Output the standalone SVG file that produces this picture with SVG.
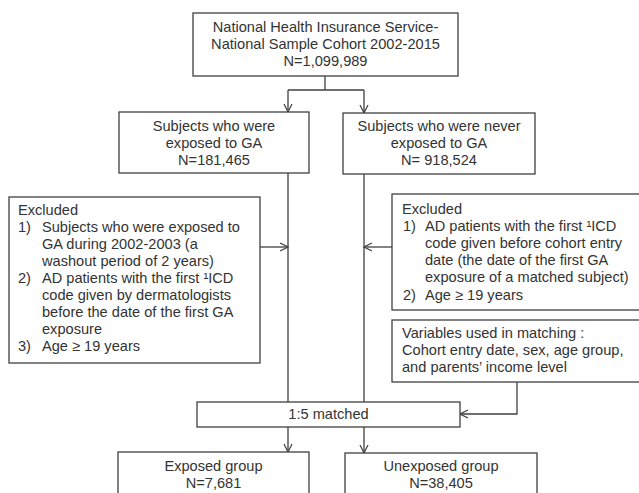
<svg xmlns="http://www.w3.org/2000/svg" width="639" height="493" viewBox="0 0 639 493">
<defs>
<style>
.box{fill:#fff;stroke:#404040;stroke-width:1.3}
.t{font-family:"Liberation Sans",Arial,sans-serif;font-size:14.6px;fill:#333}
.c{text-anchor:middle}
.ln{fill:none;stroke:#404040;stroke-width:1.3}
</style>
<marker id="ah" viewBox="0 0 10 10" refX="9" refY="5" markerWidth="10" markerHeight="10" markerUnits="userSpaceOnUse" orient="auto">
<path d="M1,1 L9,5 L1,9" fill="none" stroke="#404040" stroke-width="1.2"/>
</marker>
</defs>
<rect width="639" height="493" fill="#fff"/>
<g id="connectors">
<path class="ln" d="M325,76 V90"/>
<path class="ln" d="M288,90 H364"/>
<path class="ln" d="M288,90 V112" marker-end="url(#ah)"/>
<path class="ln" d="M364,90 V113" marker-end="url(#ah)"/>
<path class="ln" d="M288,173 V402"/>
<path class="ln" d="M364,174 V402"/>
<path class="ln" d="M260,247 H288" marker-end="url(#ah)"/>
<path class="ln" d="M392,247 H364" marker-end="url(#ah)"/>
<path class="ln" d="M517,382 V414 H460" marker-end="url(#ah)"/>
<path class="ln" d="M288,427 V452" marker-end="url(#ah)"/>
<path class="ln" d="M364,427 V453" marker-end="url(#ah)"/>
</g>
<g id="cohort">
<rect class="box" x="193" y="13" width="265" height="63"/>
<text class="t c" x="325.5" y="32">National Health Insurance Service-</text>
<text class="t c" x="325.5" y="49">National Sample Cohort 2002-2015</text>
<text class="t c" x="325.5" y="66">N=1,099,989</text>
</g>
<g id="exposed">
<rect class="box" x="119" y="112" width="190" height="61"/>
<text class="t c" x="214" y="131">Subjects who were</text>
<text class="t c" x="214" y="148">exposed to GA</text>
<text class="t c" x="214" y="165">N=181,465</text>
</g>
<g id="never">
<rect class="box" x="343" y="113" width="192" height="61"/>
<text class="t c" x="439" y="131">Subjects who were never</text>
<text class="t c" x="439" y="148">exposed to GA</text>
<text class="t c" x="439" y="165">N= 918,524</text>
</g>
<g id="excl-left">
<rect class="box" x="9" y="197" width="251" height="166"/>
<text class="t" x="18" y="215">Excluded</text>
<text class="t" x="18" y="232">1)</text>
<text class="t" x="42" y="232">Subjects who were exposed to</text>
<text class="t" x="42" y="249">GA during 2002-2003 (a</text>
<text class="t" x="42" y="266">washout period of 2 years)</text>
<text class="t" x="18" y="283">2)</text>
<text class="t" x="42" y="283">AD patients with the first ¹ICD</text>
<text class="t" x="42" y="300">code given by dermatologists</text>
<text class="t" x="42" y="317">before the date of the first GA</text>
<text class="t" x="42" y="334">exposure</text>
<text class="t" x="18" y="351">3)</text>
<text class="t" x="42" y="351">Age ≥ 19 years</text>
</g>
<g id="excl-right">
<rect class="box" x="392" y="194" width="255" height="116"/>
<text class="t" x="402" y="214">Excluded</text>
<text class="t" x="403" y="231">1)</text>
<text class="t" x="425" y="231">AD patients with the first ¹ICD</text>
<text class="t" x="425" y="248">code given before cohort entry</text>
<text class="t" x="425" y="265">date (the date of the first GA</text>
<text class="t" x="425" y="282">exposure of a matched subject)</text>
<text class="t" x="403" y="300">2)</text>
<text class="t" x="425" y="300">Age ≥ 19 years</text>
</g>
<g id="variables">
<rect class="box" x="392" y="320" width="255" height="62"/>
<text class="t" x="402" y="338">Variables used in matching :</text>
<text class="t" x="402" y="355">Cohort entry date, sex, age group,</text>
<text class="t" x="402" y="372">and parents’ income level</text>
</g>
<g id="matched">
<rect class="box" x="197" y="402" width="263" height="25"/>
<text class="t c" x="328.5" y="419">1:5 matched</text>
</g>
<g id="exposed-group">
<rect class="box" x="118" y="452" width="191" height="60"/>
<text class="t c" x="213.5" y="471">Exposed group</text>
<text class="t c" x="213.5" y="488">N=7,681</text>
</g>
<g id="unexposed-group">
<rect class="box" x="345" y="453" width="192" height="60"/>
<text class="t c" x="441" y="471">Unexposed group</text>
<text class="t c" x="441" y="488">N=38,405</text>
</g>
</svg>
